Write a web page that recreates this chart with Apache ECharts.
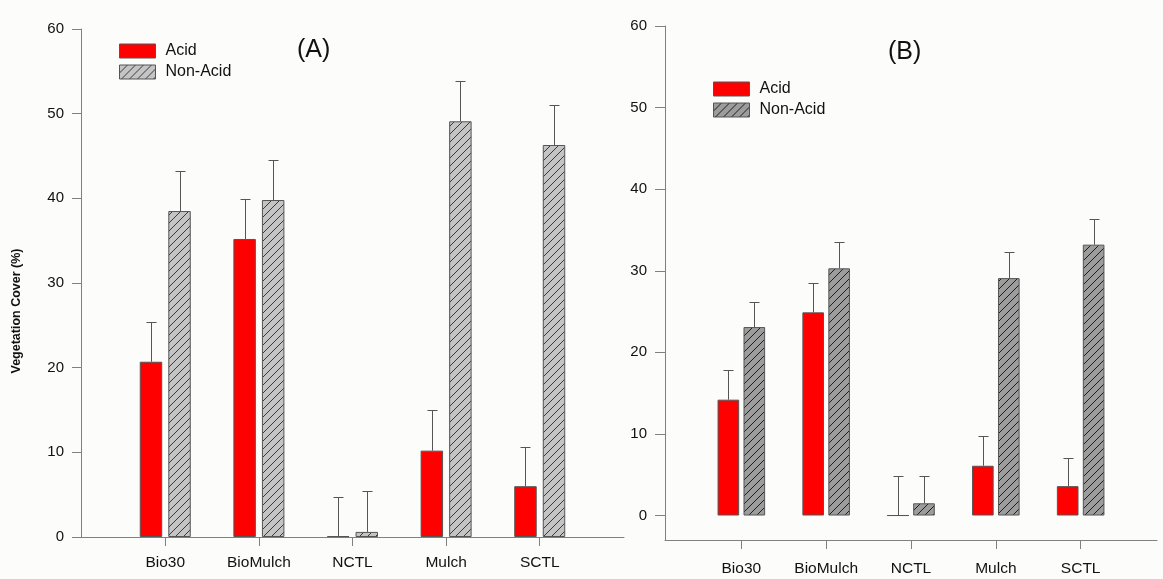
<!DOCTYPE html>
<html>
<head>
<meta charset="utf-8">
<script src="https://cdn.jsdelivr.net/npm/echarts@6/dist/echarts.min.js"></script>
<style>
  html, body { margin: 0; padding: 0; background: #fcfcfb; }
  #chart { width: 1163px; height: 579px; }
</style>
</head>
<body>
<div id="chart"></div>
<script>
// Treatments shown along both x axes
const categories = ['Bio30', 'BioMulch', 'NCTL', 'Mulch', 'SCTL'];
const yTicks = [0, 10, 20, 30, 40, 50, 60];

// Panel (A): mean vegetation cover (%) and standard error
const acidA = [20.7, 35.2, 0.1, 10.2, 6.0];
const acidErrA = [4.7, 4.7, 4.6, 4.8, 4.6];
const nonAcidA = [38.5, 39.8, 0.6, 49.1, 46.3];
const nonAcidErrA = [4.7, 4.7, 4.8, 4.8, 4.7];

// Panel (B): mean vegetation cover (%) and standard error
const acidB = [14.2, 24.9, 0.0, 6.1, 3.6];
const acidErrB = [3.6, 3.6, 4.8, 3.6, 3.5];
const nonAcidB = [23.1, 30.3, 1.5, 29.1, 33.2];
const nonAcidErrB = [3.1, 3.2, 3.3, 3.2, 3.2];

const FONT = "Arial, 'Liberation Sans', sans-serif";
const AXIS_COLOR = '#808080';
const TEXT_COLOR = '#111';

// Diagonal hatch fill used for the Non-Acid bars
function hatch(fill, stroke, size) {
  const c = document.createElement('canvas');
  c.width = size; c.height = size;
  const g = c.getContext('2d');
  g.fillStyle = fill;
  g.fillRect(0, 0, size, size);
  g.strokeStyle = stroke;
  g.lineWidth = 1;
  g.beginPath();
  g.moveTo(0, size); g.lineTo(size, 0);
  g.moveTo(-1, 1); g.lineTo(1, -1);
  g.moveTo(size - 1, size + 1); g.lineTo(size + 1, size - 1);
  g.stroke();
  return { image: c, repeat: 'repeat' };
}
const hatchA = hatch('#c4c4c4', '#3a3a3a', 8);
const hatchB = hatch('#9c9c9c', '#1e1e1e', 8);

const panels = [
  { acid: acidA, acidErr: acidErrA, non: nonAcidA, nonErr: nonAcidErrA, fill: hatchA, barW: 0.24, gap: 0.27 },
  { acid: acidB, acidErr: acidErrB, non: nonAcidB, nonErr: nonAcidErrB, fill: hatchB, barW: 0.255, gap: 0.20 }
];

const pairs = vals => vals.map((v, i) => [i, v]);

// Upward error whisker with a cap, centred on its bar
function errorSeries(name, idx, vals, errs, side, barW, gap) {
  return {
    type: 'custom',
    name: name,
    xAxisIndex: idx,
    yAxisIndex: idx,
    z: 3,
    silent: true,
    data: vals.map((v, i) => [i, v, errs[i]]),
    renderItem(params, api) {
      const band = api.size([1, 0])[0];
      const off = side * band * barW * (1 + gap) / 2;
      const x = Math.round(api.coord([api.value(0), 0])[0] + off) + 0.5;
      const yb = api.coord([0, api.value(1)])[1];
      const yt = Math.round(api.coord([0, api.value(1) + api.value(2)])[1]) + 0.5;
      const cap = 5;
      const style = { stroke: '#555', lineWidth: 1 };
      return {
        type: 'group',
        children: [
          { type: 'line', shape: { x1: x, y1: yb, x2: x, y2: yt }, style },
          { type: 'line', shape: { x1: x - cap, y1: yt, x2: x + cap, y2: yt }, style }
        ]
      };
    }
  };
}

const series = [];
panels.forEach((p, k) => {
  series.push({
    type: 'bar', name: 'Acid', xAxisIndex: k, yAxisIndex: k,
    data: pairs(p.acid),
    barWidth: (p.barW * 100) + '%', barGap: (p.gap * 100) + '%',
    itemStyle: { color: '#ff0000', borderColor: '#555', borderWidth: 1 }
  });
  series.push({
    type: 'bar', name: 'Non-Acid', xAxisIndex: k, yAxisIndex: k,
    data: pairs(p.non),
    barWidth: (p.barW * 100) + '%', barGap: (p.gap * 100) + '%',
    itemStyle: { color: p.fill, borderColor: '#555', borderWidth: 1 }
  });
  series.push(errorSeries('Acid SE ' + k, k, p.acid, p.acidErr, -1, p.barW, p.gap));
  series.push(errorSeries('Non-Acid SE ' + k, k, p.non, p.nonErr, 1, p.barW, p.gap));
});

const catIdx = categories.map((c, i) => i);

function xAxis(k) {
  return {
    type: 'value', gridIndex: k, min: -0.9, max: 4.9,
    splitLine: { show: false },
    axisLine: { show: true, onZero: false, lineStyle: { color: AXIS_COLOR, width: 1 } },
    axisTick: { show: true, customValues: catIdx, length: 9, lineStyle: { color: AXIS_COLOR } },
    axisLabel: {
      customValues: catIdx, formatter: v => categories[Math.round(v)],
      margin: k === 0 ? 18 : 21, fontSize: 15.5, color: TEXT_COLOR, fontFamily: FONT
    }
  };
}

function yAxis(k) {
  const ax = {
    type: 'value', gridIndex: k, max: 60,
    splitLine: { show: false },
    axisLine: { show: true, onZero: false, lineStyle: { color: AXIS_COLOR, width: 1 } },
    axisTick: { show: true, length: k === 0 ? 9 : 10, lineStyle: { color: AXIS_COLOR } },
    axisLabel: { margin: k === 0 ? 17 : 18, fontSize: 15, color: TEXT_COLOR, fontFamily: FONT }
  };
  if (k === 0) {
    ax.min = 0;
    ax.interval = 10;
  } else {
    ax.min = -3;
    ax.axisTick.customValues = yTicks;
    ax.axisLabel.customValues = yTicks;
  }
  return ax;
}

const legendBase = {
  orient: 'vertical', itemWidth: 36, itemHeight: 14, itemGap: 5, icon: 'rect',
  textStyle: { fontSize: 16, color: TEXT_COLOR, fontFamily: FONT, padding: [0, 0, 0, 5] },
  selectedMode: false
};

const option = {
  backgroundColor: '#fcfcfb',
  animation: false,
  title: [
    { text: '(A)', left: 292, top: 33, textStyle: { fontSize: 25, fontWeight: 'normal', color: TEXT_COLOR, fontFamily: FONT } },
    { text: '(B)', left: 883, top: 35, textStyle: { fontSize: 25, fontWeight: 'normal', color: TEXT_COLOR, fontFamily: FONT } }
  ],
  legend: [
    Object.assign({}, legendBase, {
      left: 114, top: 38,
      data: [
        { name: 'Acid', itemStyle: { color: '#ff0000', borderColor: '#555', borderWidth: 1 } },
        { name: 'Non-Acid', itemStyle: { color: hatchA, borderColor: '#555', borderWidth: 1 } }
      ]
    }),
    Object.assign({}, legendBase, {
      left: 708, top: 76,
      data: [
        { name: 'Acid', itemStyle: { color: '#ff0000', borderColor: '#555', borderWidth: 1 } },
        { name: 'Non-Acid', itemStyle: { color: hatchB, borderColor: '#555', borderWidth: 1 } }
      ]
    })
  ],
  // Shared y-axis title, set to the left of panel (A)
  graphic: [{
    type: 'text', x: 17, y: 311, rotation: Math.PI / 2,
    style: {
      text: 'Vegetation Cover (%)', align: 'center', verticalAlign: 'middle',
      font: "bold 12.5px Arial, 'Liberation Sans', sans-serif", fill: TEXT_COLOR
    }
  }],
  grid: [
    { left: 81, right: 539, top: 29, bottom: 42, containLabel: false, outerBoundsMode: 'none' },
    { left: 665, right: 6, top: 26, bottom: 39, containLabel: false, outerBoundsMode: 'none' }
  ],
  xAxis: [xAxis(0), xAxis(1)],
  yAxis: [yAxis(0), yAxis(1)],
  series: series
};

const chart = echarts.init(document.getElementById('chart'), null, { renderer: 'canvas' });
chart.setOption(option);
</script>
</body>
</html>
